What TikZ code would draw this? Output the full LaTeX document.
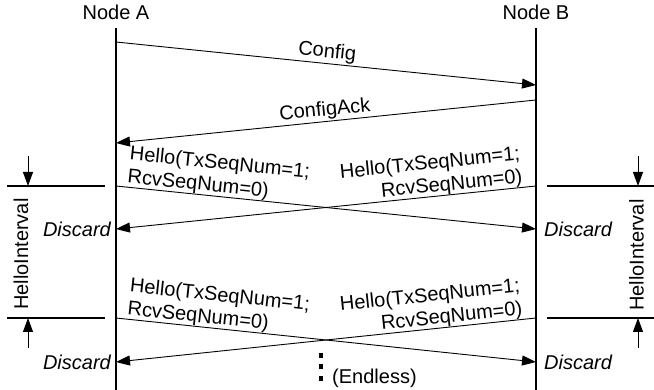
\documentclass[tikz,border=0pt]{standalone}
\usepackage{fontspec}
\setmainfont{Liberation Sans}
\usetikzlibrary{arrows.meta}
\begin{document}
\begin{tikzpicture}[x=1pt,y=-1pt,
  font=\fontsize{20}{23}\selectfont,
  lifeline/.style={line width=1.6pt},
  msg/.style={line width=0.9pt,-{Triangle[length=14pt,width=10pt]}},
  tick/.style={line width=1.3pt},
  dimarrow/.style={line width=0.9pt,-{Triangle[length=14pt,width=10pt]}},
  msglabel/.style={sloped,anchor=south,inner sep=1.5pt},
  hellolabel/.style={sloped,inner sep=0pt},
  discard/.style={font=\fontsize{20}{23}\selectfont\itshape,inner sep=1pt},
  interval/.style={rotate=90,inner sep=0pt}]
\useasboundingbox (0,0) rectangle (654,390);

% participants and their lifelines
\node[anchor=base] (na) at (116,20) {Node A};
\node[anchor=base] (nb) at (536,20) {Node B};
\coordinate (a0) at (116,28);
\coordinate (a1) at (116,390);
\coordinate (b0) at (536,28);
\coordinate (b1) at (536,390);
\draw[lifeline] (a0) -- (a1);
\draw[lifeline] (b0) -- (b1);

% configuration exchange
\coordinate (c1) at (116,42);
\coordinate (c2) at (536,85);
\coordinate (k1) at (536,100);
\coordinate (k2) at (116,143);
\draw[msg] (c1) -- node[msglabel] {Config} (c2);
\draw[msg] (k1) -- (k2);
\path (k2) -- node[msglabel] {ConfigAck} (k1);

% first crossing pair of hellos
\coordinate (p1) at (116,186);
\coordinate (p2) at (536,229);
\coordinate (q1) at (536,186);
\coordinate (q2) at (116,229);
\draw[msg] (p1) -- (p2);
\draw[msg] (q1) -- (q2);
\path (p1) -- (p2) node[hellolabel,pos=0.025,anchor=south west,align=left]
  {Hello(TxSeqNum=1;\\RcvSeqNum=0)};
\path (q2) -- (q1) node[hellolabel,pos=0.97,anchor=south east,align=right]
  {Hello(TxSeqNum=1;\\RcvSeqNum=0)};
\node[discard,anchor=east] (da1) at ([xshift=-4pt]q2) {Discard};
\node[discard,anchor=west] (db1) at ([xshift=7pt]p2) {Discard};

% second crossing pair of hellos
\coordinate (r1) at (116,318);
\coordinate (r2) at (536,362);
\coordinate (s1) at (536,318);
\coordinate (s2) at (116,362);
\draw[msg] (r1) -- (r2);
\draw[msg] (s1) -- (s2);
\path (r1) -- (r2) node[hellolabel,pos=0.025,anchor=south west,align=left]
  {Hello(TxSeqNum=1;\\RcvSeqNum=0)};
\path (s2) -- (s1) node[hellolabel,pos=0.97,anchor=south east,align=right]
  {Hello(TxSeqNum=1;\\RcvSeqNum=0)};
\node[discard,anchor=east] (da2) at ([xshift=-4pt]s2) {Discard};
\node[discard,anchor=west] (db2) at ([xshift=7pt]r2) {Discard};

% hello interval dimension, left side
\coordinate (la1) at (7,186);
\coordinate (la2) at (105,186);
\coordinate (lb1) at (7,318);
\coordinate (lb2) at (105,318);
\draw[tick] (la1) -- (la2);
\draw[tick] (lb1) -- (lb2);
\coordinate (lt0) at (28,156);
\coordinate (lt1) at (28,186);
\coordinate (lu0) at (28,348);
\coordinate (lu1) at (28,318);
\draw[dimarrow] (lt0) -- (lt1);
\draw[dimarrow] (lu0) -- (lu1);
\node[interval] (li) at (21,254) {HelloInterval};

% hello interval dimension, right side
\coordinate (ra1) at (547,186);
\coordinate (ra2) at (654,186);
\coordinate (rb1) at (547,318);
\coordinate (rb2) at (654,318);
\draw[tick] (ra1) -- (ra2);
\draw[tick] (rb1) -- (rb2);
\coordinate (rt0) at (638,156);
\coordinate (rt1) at (638,186);
\coordinate (ru0) at (638,348);
\coordinate (ru1) at (638,318);
\draw[dimarrow] (rt0) -- (rt1);
\draw[dimarrow] (ru0) -- (ru1);
\node[interval] (ri) at (636.5,255) {HelloInterval};

% continuation marker
\fill (318.5,353.5) rectangle (322.5,358.5);
\fill (318.5,364.5) rectangle (322.5,369.5);
\fill (318.5,376.5) rectangle (322.5,381.5);
\node[anchor=west,inner sep=0pt] (endless) at (332,378) {(Endless)};
\end{tikzpicture}
\end{document}
